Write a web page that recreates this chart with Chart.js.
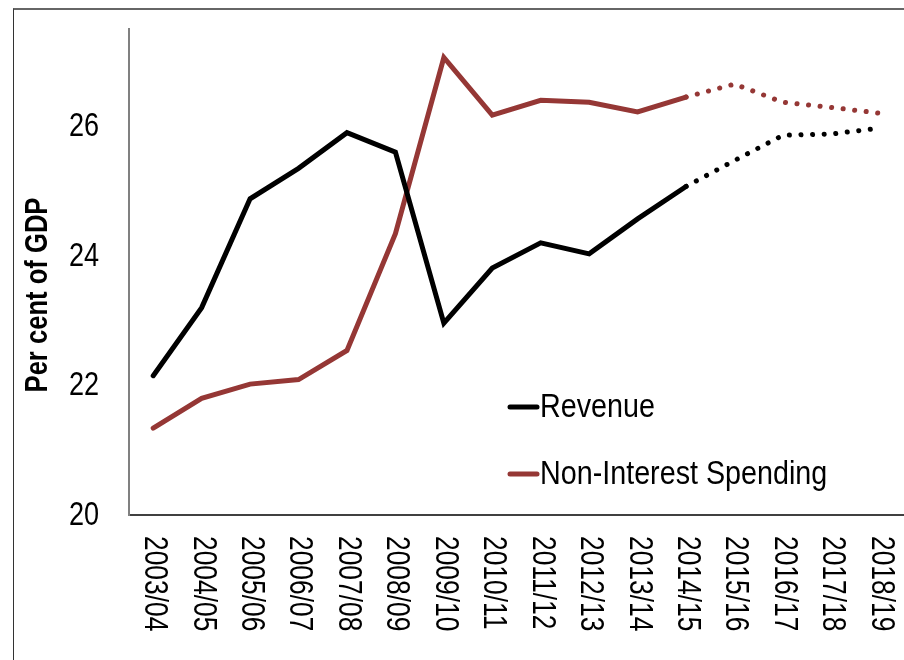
<!DOCTYPE html>
<html>
<head>
<meta charset="utf-8">
<script src="https://cdn.jsdelivr.net/npm/chart.js@4/dist/chart.umd.min.js"></script>
<style>
  html, body { margin: 0; padding: 0; background: #fff; }
  #wrap { position: relative; width: 904px; height: 660px; overflow: hidden; }
  #frame { position: absolute; left: 13px; top: 8px; width: 1000px; height: 1000px;
           border-left: 1px solid #333; border-top: 2px solid #666; }
  canvas { position: absolute; left: 0; top: 0; }
</style>
</head>
<body>
<div id="wrap">
  <div id="frame"></div>
  <canvas id="chart" width="904" height="660"></canvas>
</div>
<script>
const categories = ['2003/04','2004/05','2005/06','2006/07','2007/08','2008/09','2009/10','2010/11',
                    '2011/12','2012/13','2013/14','2014/15','2015/16','2016/17','2017/18','2018/19'];
const revenue  = [22.15, 23.2, 24.88, 25.35, 25.9, 25.6, 22.96, 23.81, 24.2, 24.03, 24.57, 25.07, 25.47, 25.86, 25.88, 25.97];
const spending = [21.34, 21.8, 22.02, 22.09, 22.54, 24.34, 27.06, 26.17, 26.4, 26.37, 26.22, 26.45, 26.65, 26.37, 26.29, 26.2];
const yTicks = [20, 22, 24, 26];
const forecastFrom = 11; // index of 2014/15, dotted after this
const seriesNames = ['Revenue', 'Non-Interest Spending'];
const seriesColors = ['#000000', '#953735'];
const yTitle = 'Per cent of GDP';

// no narrow font installed, so squeeze Liberation Sans horizontally
const FONT = "'Liberation Sans', Arial, sans-serif";

function narrowText(c, text, x, y, angle, sx, align) {
  c.save();
  c.translate(x, y);
  c.rotate(angle);
  c.scale(sx, 1);
  c.textAlign = align;
  c.fillText(text, 0, 0);
  c.restore();
}

// dotted projection segments
const dotted = ctx => ctx.p0DataIndex >= forecastFrom ? [0.1, 11.5] : undefined;

const textPlugin = {
  id: 'axisText',
  afterDraw(chart) {
    const c = chart.ctx, xs = chart.scales.x, ys = chart.scales.y, a = chart.chartArea;
    c.save();
    c.fillStyle = '#000';
    c.textBaseline = 'middle';

    // y ticks
    c.font = '33px ' + FONT;
    yTicks.forEach(v => narrowText(c, String(v), ys.right - 30, ys.getPixelForValue(v) + 1, 0, 0.82, 'right'));

    // y title
    c.font = 'bold 32px ' + FONT;
    narrowText(c, yTitle, 38, (a.top + a.bottom) / 2 + 23, -Math.PI / 2, 0.8, 'center');

    // x labels, rotated clockwise
    c.font = '33px ' + FONT;
    categories.forEach((lab, i) => narrowText(c, lab, xs.getPixelForValue(i) + 1, xs.top + 21, Math.PI / 2, 0.8, 'left'));

    // legend inside the plot
    const x0 = a.left + 381, ly = [a.top + 378, a.top + 445];
    seriesNames.forEach((name, i) => {
      c.strokeStyle = seriesColors[i];
      c.lineWidth = 5;
      c.lineCap = 'round';
      c.beginPath();
      c.moveTo(x0, ly[i]);
      c.lineTo(x0 + 27, ly[i]);
      c.stroke();
      c.font = '33px ' + FONT;
      narrowText(c, name, x0 + 30, ly[i] + 1, 0, 0.87, 'left');
    });
    c.restore();
  }
};

new Chart(document.getElementById('chart'), {
  type: 'line',
  data: {
    labels: categories,
    datasets: [
      { label: seriesNames[0], data: revenue, borderColor: seriesColors[0], borderWidth: 5,
        borderCapStyle: 'round', borderJoinStyle: 'miter', pointRadius: 0, tension: 0,
        segment: { borderDash: dotted } },
      { label: seriesNames[1], data: spending, borderColor: seriesColors[1], borderWidth: 5,
        borderCapStyle: 'round', borderJoinStyle: 'miter', pointRadius: 0, tension: 0,
        segment: { borderDash: dotted } }
    ]
  },
  options: {
    responsive: false,
    animation: false,
    layout: { padding: { top: 29, right: 0, bottom: 0, left: 0 } },
    plugins: { legend: { display: false }, tooltip: { enabled: false } },
    scales: {
      x: {
        offset: true,
        grid: { display: false, drawTicks: false },
        border: { color: '#404040', width: 2 },
        ticks: { display: false },
        afterFit: s => { s.height = 145; }
      },
      y: {
        min: 20, max: 27.5,
        afterBuildTicks: s => { s.ticks = yTicks.map(v => ({ value: v })); },
        grid: { display: false, drawTicks: false },
        border: { color: '#808080', width: 2 },
        ticks: { display: false },
        afterFit: s => { s.width = 129; }
      }
    }
  },
  plugins: [textPlugin]
});
</script>
</body>
</html>
